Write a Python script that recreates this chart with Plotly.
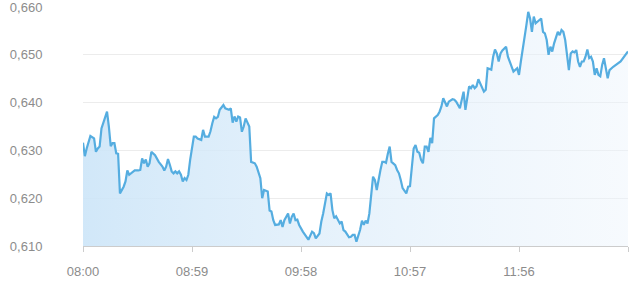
import pandas as pd
import plotly.graph_objects as go

# minute offsets from 08:00 and price values
minutes = [0, 1, 2, 4, 6, 7, 8, 9, 10, 11, 13, 14, 15, 16, 17, 18, 19, 20, 22, 23,
           24, 25, 26, 28, 30, 31, 32, 33, 34, 35, 36, 37, 39, 41, 43, 44, 45, 46, 47, 48,
           49, 50, 51, 52, 53, 54, 55, 56, 57, 58, 60, 61, 62, 64, 65, 66, 68, 69, 70, 71,
           72, 73, 74, 76, 77, 79, 80, 81, 82, 83, 84, 85, 86, 87, 88, 89, 90, 91, 93, 94,
           96, 97, 98, 100, 101, 102, 103, 104, 106, 107, 108, 109, 111, 112, 113, 114, 115, 116, 117, 119,
           121, 122, 124, 125, 126, 128, 129, 130, 132, 133, 134, 135, 136, 137, 139, 140, 141, 142, 144, 145,
           146, 147, 148, 150, 151, 152, 153, 154, 155, 156, 157, 158, 159, 161, 162, 163, 164, 165, 166, 167,
           169, 170, 171, 172, 173, 175, 176, 177, 179, 180, 181, 182, 183, 184, 185, 186, 187, 188, 189, 190,
           192, 193, 194, 195, 197, 198, 200, 201, 202, 204, 205, 206, 207, 208, 209, 210, 211, 212, 213, 214,
           216, 217, 218, 219, 221, 222, 223, 224, 225, 226, 227, 229, 230, 231, 232, 233, 235, 236, 237, 239,
           240, 241, 242, 243, 244, 245, 246, 247, 248, 249, 250, 251, 252, 253, 254, 255, 256, 257, 258, 259,
           260, 261, 262, 263, 264, 265, 266, 267, 268, 269, 270, 271, 272, 273, 274, 275, 276, 277, 278, 279,
           280, 281, 282, 283, 284, 285, 287, 291, 295]

prices = [0.6316, 0.6288, 0.6304, 0.6330, 0.6325, 0.6297, 0.6304, 0.6308, 0.6346, 0.6357,
          0.6381, 0.6350, 0.6309, 0.6315, 0.6315, 0.6294, 0.6293, 0.6210, 0.6224, 0.6235,
          0.6258, 0.6249, 0.6252, 0.6258, 0.6258, 0.6259, 0.6283, 0.6273, 0.6281, 0.6266,
          0.6273, 0.6297, 0.6290, 0.6276, 0.6266, 0.6258, 0.6266, 0.6282, 0.6270, 0.6256,
          0.6252, 0.6256, 0.6252, 0.6256, 0.6249, 0.6235, 0.6242, 0.6238, 0.6249, 0.6280,
          0.6329, 0.6329, 0.6325, 0.6322, 0.6343, 0.6329, 0.6329, 0.6340, 0.6357, 0.6370,
          0.6367, 0.6370, 0.6385, 0.6395, 0.6388, 0.6385, 0.6388, 0.6358, 0.6371, 0.6360,
          0.6371, 0.6369, 0.6339, 0.6350, 0.6367, 0.6360, 0.6350, 0.6276, 0.6273, 0.6266,
          0.6242, 0.6200, 0.6217, 0.6214, 0.6174, 0.6172, 0.6154, 0.6144, 0.6145, 0.6154,
          0.6140, 0.6154, 0.6168, 0.6147, 0.6161, 0.6168, 0.6154, 0.6155, 0.6144, 0.6130,
          0.6119, 0.6113, 0.6130, 0.6127, 0.6116, 0.6126, 0.6151, 0.6168, 0.6210, 0.6207,
          0.6210, 0.6175, 0.6158, 0.6162, 0.6147, 0.6151, 0.6133, 0.6130, 0.6118, 0.6119,
          0.6123, 0.6123, 0.6109, 0.6134, 0.6153, 0.6144, 0.6153, 0.6147, 0.6168, 0.6214,
          0.6245, 0.6238, 0.6217, 0.6259, 0.6276, 0.6276, 0.6274, 0.6293, 0.6308, 0.6276,
          0.6269, 0.6259, 0.6252, 0.6238, 0.6221, 0.6210, 0.6224, 0.6225, 0.6304, 0.6311,
          0.6297, 0.6295, 0.6280, 0.6273, 0.6308, 0.6308, 0.6297, 0.6326, 0.6315, 0.6367,
          0.6374, 0.6381, 0.6392, 0.6409, 0.6392, 0.6402, 0.6407, 0.6406, 0.6402, 0.6388,
          0.6406, 0.6423, 0.6385, 0.6406, 0.6434, 0.6430, 0.6437, 0.6430, 0.6434, 0.6449,
          0.6430, 0.6423, 0.6427, 0.6472, 0.6469, 0.6496, 0.6511, 0.6503, 0.6486, 0.6503,
          0.6509, 0.6517, 0.6496, 0.6486, 0.6475, 0.6465, 0.6472, 0.6458, 0.6486, 0.6531,
          0.6562, 0.6590, 0.6576, 0.6548, 0.6580, 0.6566, 0.6569, 0.6573, 0.6576, 0.6548,
          0.6545, 0.6531, 0.6500, 0.6517, 0.6507, 0.6524, 0.6538, 0.6548, 0.6541, 0.6552,
          0.6548, 0.6531, 0.6500, 0.6468, 0.6503, 0.6507, 0.6505, 0.6510, 0.6486, 0.6475,
          0.6486, 0.6486, 0.6496, 0.6511, 0.6493, 0.6496, 0.6486, 0.6458, 0.6472, 0.6458,
          0.6455, 0.6479, 0.6493, 0.6472, 0.6451, 0.6468, 0.6475, 0.6486, 0.6507]

tick_labels = ["08:00", "08:59", "09:58", "10:57", "11:56", ""]
tick_minutes = [0, 59, 118, 177, 236, 295]
y_ticks = [0.610, 0.620, 0.630, 0.640, 0.650, 0.660]

base = pd.Timestamp("2024-01-02 08:00")
times = [base + pd.Timedelta(minutes=m) for m in minutes]
tick_times = [base + pd.Timedelta(minutes=m) for m in tick_minutes]

fig = go.Figure()
fig.add_trace(go.Scatter(
    x=times, y=prices, mode="lines",
    line=dict(color="#55ade0", width=2.2),
    fill="tozeroy",
    fillgradient=dict(type="horizontal",
                      colorscale=[[0, "rgba(204,229,248,0.9)"], [1, "rgba(236,244,252,0.45)"]]),
    hoverinfo="skip",
))

fig.update_layout(
    width=640, height=288,
    margin=dict(l=83, r=12, t=7, b=42),
    paper_bgcolor="white", plot_bgcolor="white",
    showlegend=False,
    separators=",.",
    font=dict(family="Liberation Sans, Arial, sans-serif", size=13, color="#8c8c8c"),
)
fig.update_xaxes(
    range=[tick_times[0], tick_times[-1]],
    tickvals=tick_times, ticktext=tick_labels,
    showgrid=False, zeroline=False,
    showline=True, linecolor="#cccccc", linewidth=1,
    ticks="outside", ticklen=5, tickcolor="#cccccc",
    ticklabelstandoff=8,
    ticklabeloverflow="allow",
    automargin=False,
)
fig.update_yaxes(
    range=[0.60999, 0.66001],
    tickvals=y_ticks, tickformat=".3f",
    showgrid=True, gridcolor="#ececec", gridwidth=1,
    zeroline=False, showline=False,
    ticks="outside", ticklen=37, tickcolor="rgba(0,0,0,0)",
    ticklabeloverflow="allow",
    automargin=False,
)

fig.write_html("out.html")
